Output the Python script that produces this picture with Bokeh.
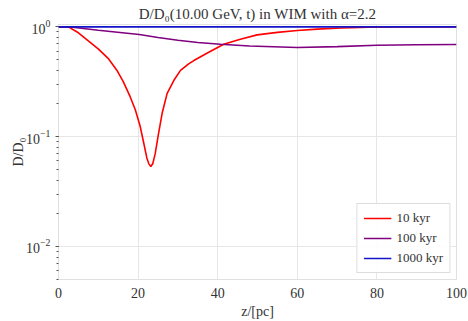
from bokeh.plotting import figure
from bokeh.models import Legend, LegendItem, FixedTicker, Range1d
from bokeh.embed import file_html
from bokeh.resources import INLINE

# Data
z_10 = [0, 2.5, 5.0, 7.5, 10.05, 12.6, 14.7, 16.3, 18.0, 19.3, 20.5, 21.4, 22.2, 22.7, 23.2, 23.7, 24.3, 25.1, 26.05, 27.3, 29.0, 30.65, 32.7, 34.0, 37.4, 41.5, 45.7, 49.9, 55, 60, 65, 71, 78, 85, 100]
d_10 = [1, 1, 0.883, 0.744, 0.627, 0.51, 0.401, 0.315, 0.231, 0.176, 0.125, 0.088, 0.064, 0.0565, 0.0535, 0.057, 0.07, 0.105, 0.164, 0.248, 0.326, 0.401, 0.46, 0.493, 0.577, 0.695, 0.77, 0.845, 0.89, 0.925, 0.952, 0.975, 0.99, 1.0, 1.0]

z_100 = [0, 2.5, 10, 20.3, 25, 30, 35, 40.7, 48, 60, 70, 80, 90, 100]
d_100 = [1, 1, 0.93, 0.85, 0.80, 0.755, 0.72, 0.695, 0.67, 0.649, 0.66, 0.68, 0.687, 0.69]

z_1000 = [0, 25, 50, 75, 100]
d_1000 = [1, 1, 1, 1, 1]

labels = ["10 kyr", "100 kyr", "1000 kyr"]
colors = ["#ff0000", "#800080", "#1414c8"]

FONT = "Liberation Serif"

p = figure(width=468, height=321, output_backend="svg", toolbar_location=None,
           y_axis_type="log", x_range=Range1d(0, 100), y_range=Range1d(0.005, 1.05),
           title="D/D\u2080(10.00 GeV, t) in WIM with \u03b1=2.2",
           min_border_left=58, min_border_right=12, min_border_bottom=37, min_border_top=0)

p.title.align = "center"
p.title.text_font = FONT
p.title.text_font_size = "15px"
p.title.text_font_style = "normal"
p.title.text_color = "#333333"
p.title.offset = 60
p.title.standoff = 6

r1 = p.line(z_10, d_10, line_color=colors[0], line_width=1.6)
r2 = p.line(z_100, d_100, line_color=colors[1], line_width=1.6)
r3 = p.line(z_1000, d_1000, line_color=colors[2], line_width=1.6)

legend = Legend(items=[LegendItem(label=labels[0], renderers=[r1]),
                       LegendItem(label=labels[1], renderers=[r2]),
                       LegendItem(label=labels[2], renderers=[r3])],
                location="bottom_right")
legend.label_text_font = FONT
legend.label_text_font_size = "13px"
legend.label_text_color = "#333333"
legend.border_line_color = "#dddddd"
legend.border_line_alpha = 1
legend.background_fill_alpha = 0.9
legend.glyph_width = 28
legend.glyph_height = 14
legend.label_height = 14
legend.spacing = 4
legend.padding = 6
legend.margin = 6
p.add_layout(legend, "center")

p.xaxis.ticker = FixedTicker(ticks=[0, 20, 40, 60, 80, 100])
p.xaxis.axis_label = "z/[pc]"
p.yaxis.axis_label = "D/D\u2080"
for ax in (p.xaxis, p.yaxis):
    ax.axis_label_text_font = FONT
    ax.axis_label_text_font_style = "normal"
    ax.axis_label_text_font_size = "14px"
    ax.axis_label_text_color = "#333333"
    ax.major_label_text_font = FONT
    ax.major_label_text_font_size = "14px"
    ax.major_label_text_color = "#333333"
    ax.axis_line_color = None
    ax.major_tick_line_color = "#555555"
    ax.minor_tick_line_color = "#555555"
    ax.major_tick_in = 0
    ax.major_tick_out = 3
    ax.minor_tick_in = 0
    ax.minor_tick_out = 2
p.xaxis.minor_tick_line_color = None
p.xaxis.major_tick_out = 0
p.xaxis.major_label_standoff = 8
p.yaxis.axis_label_standoff = -3
p.xaxis.axis_label_standoff = 3

p.grid.grid_line_color = "#e6e6e6"
p.grid.grid_line_width = 1
p.ygrid.minor_grid_line_color = None
p.outline_line_color = "#e0e0e0"
p.background_fill_color = "white"
p.border_fill_color = "white"

open("out.html", "w").write(file_html(p, INLINE))
